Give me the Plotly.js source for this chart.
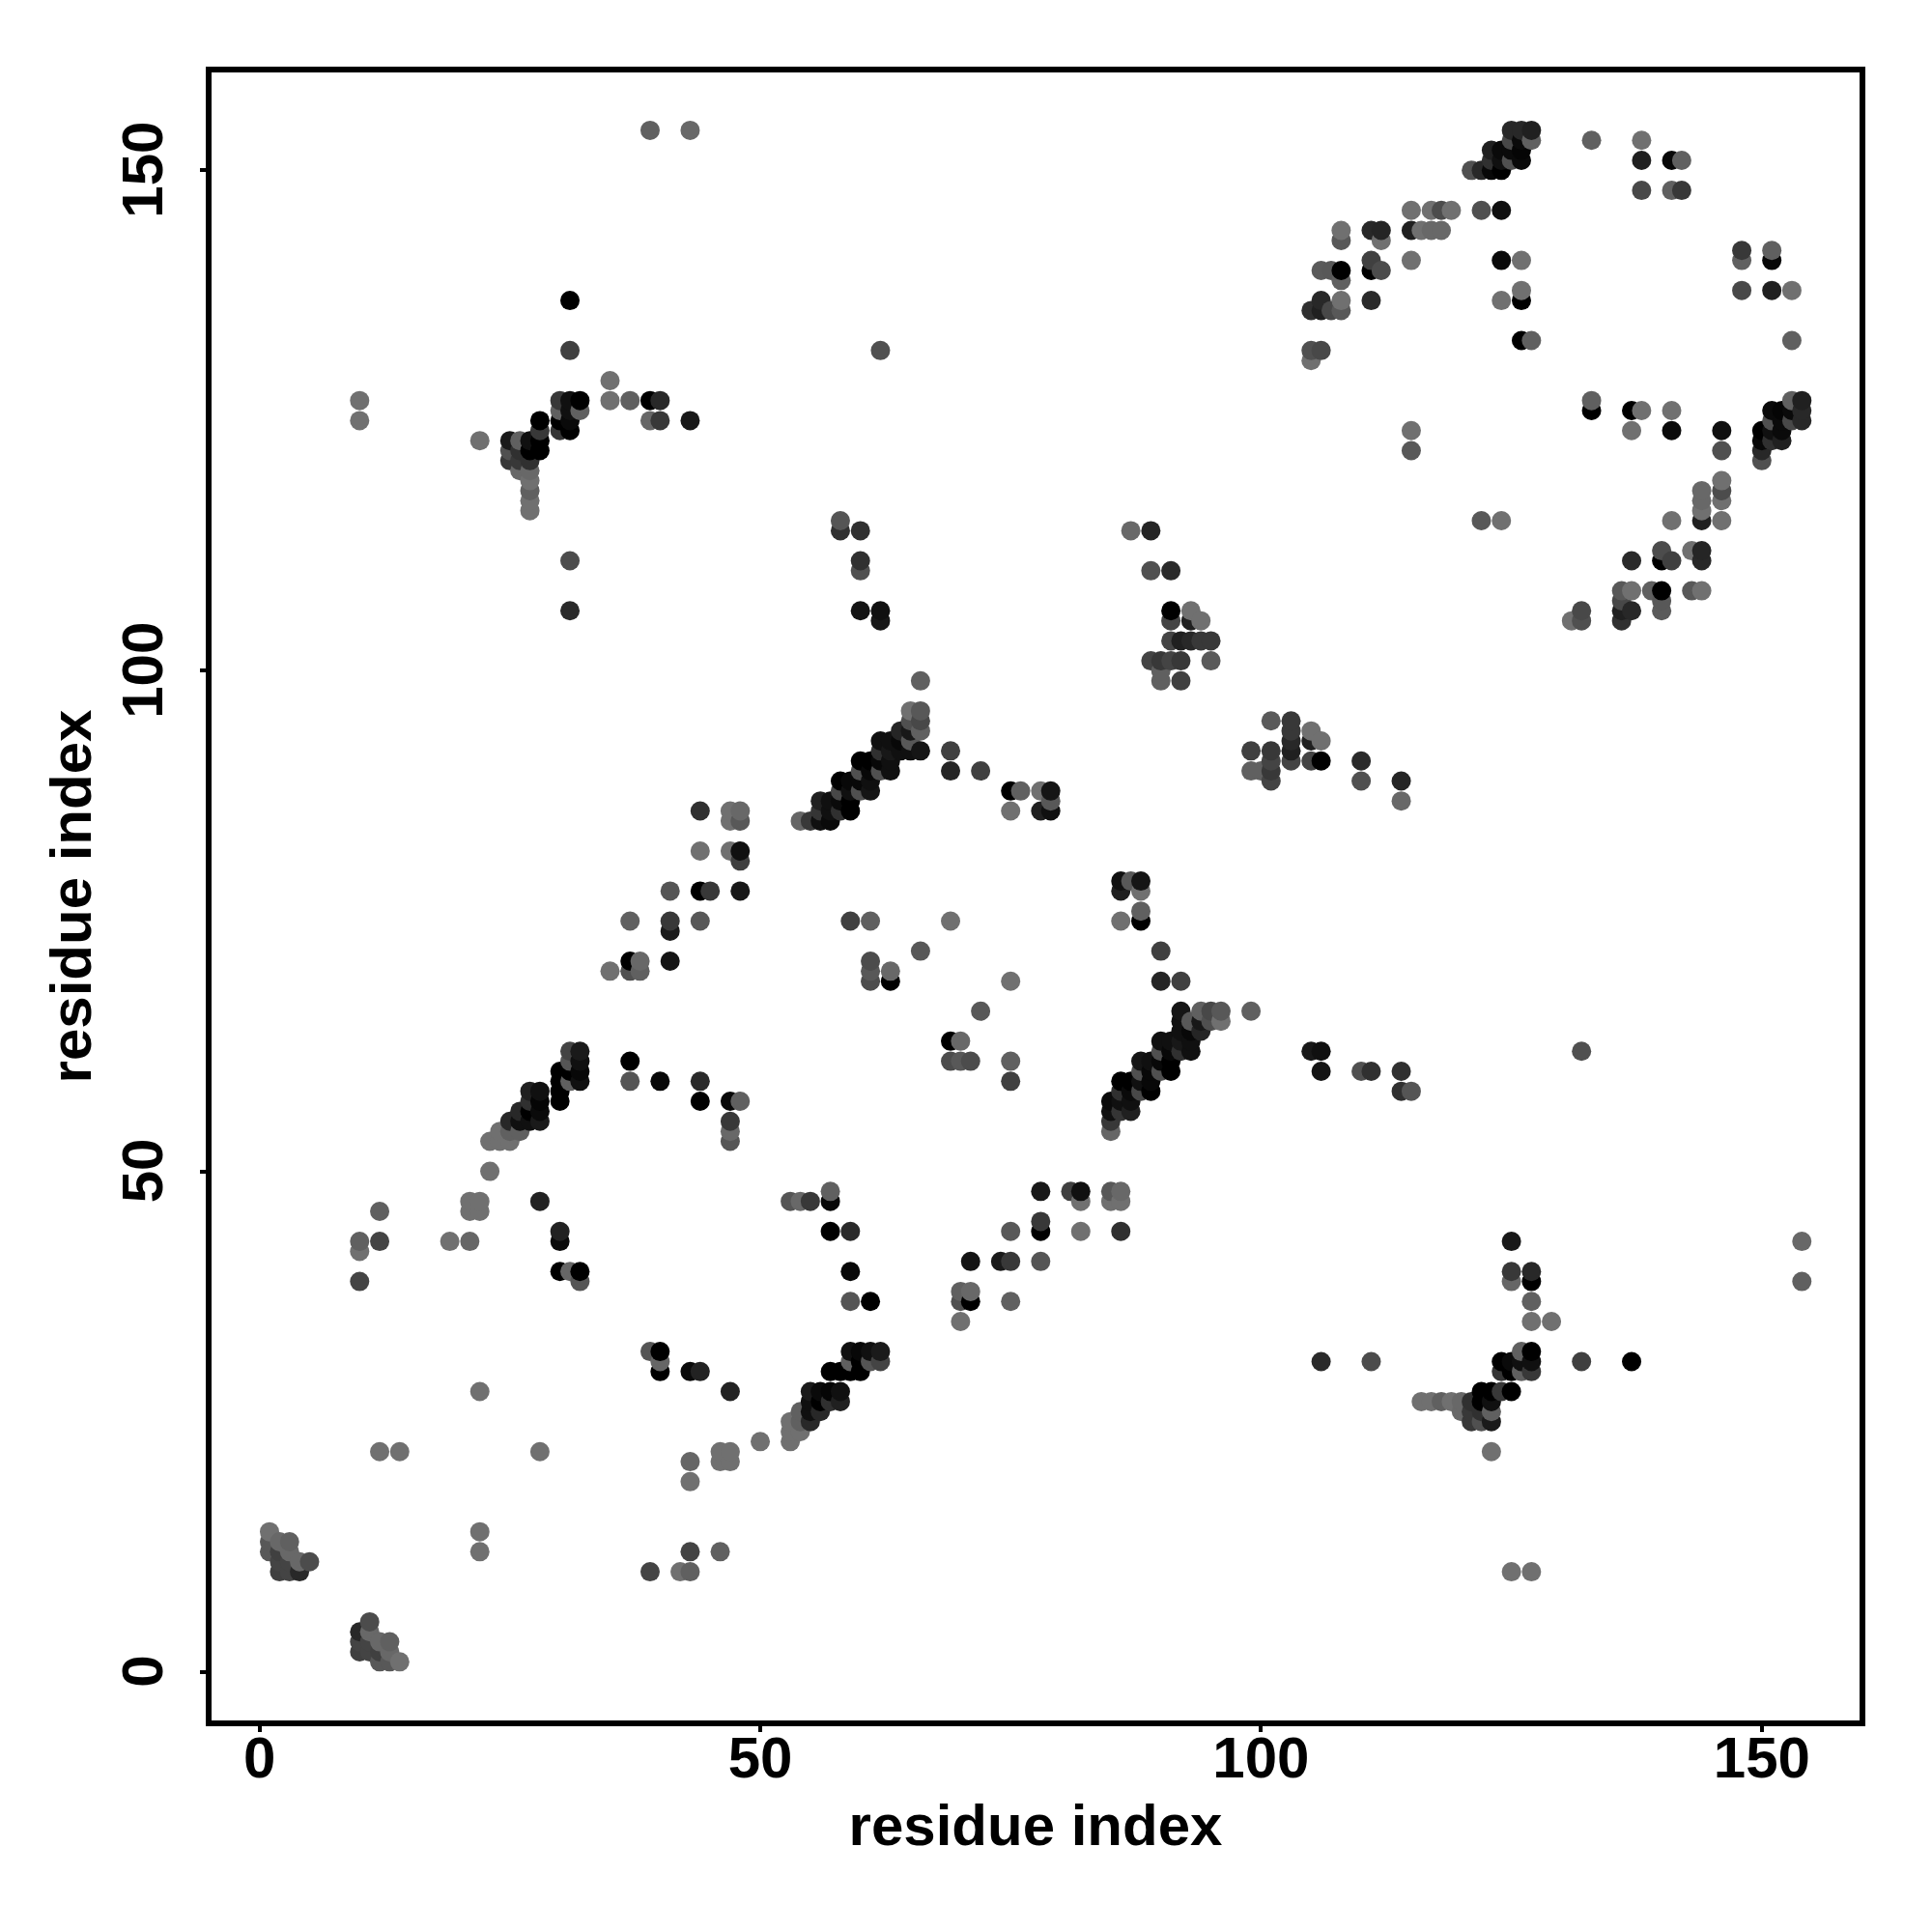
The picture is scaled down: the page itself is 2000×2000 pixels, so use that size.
<!DOCTYPE html>
<html><head><meta charset="utf-8">
<script src="https://cdn.plot.ly/plotly-3.0.1.min.js"></script>
<style>html,body{margin:0;padding:0;background:#fff}</style>
</head><body><div id="chart" style="width:2000px;height:2000px"></div>
<script>
// Each contact: [residue i, residue j, grey level]; the map is symmetric, so j<i is listed.
const contactsA = [[14,1,0x70],[13,1,0x58],[12,1,0x58],[13,2,0x68],[13,3,0x60],[12,2,0x40],[12,3,0x68],[11,2,0x44],[11,3,0x44],[11,4,0x68],[11,5,0x4c],[10,2,0x40],[10,3,0x44],[10,4,0x28]];
const contactsB = [[39,10,0x44],[42,10,0x70],[43,10,0x60],[43,12,0x44],[46,12,0x60],[43,19,0x70],[43,21,0x66],[46,21,0x70],[47,21,0x70],[46,22,0x70],[47,22,0x70],[28,22,0x70],[22,12,0x70],[22,14,0x70],[50,23,0x70],[47,28,0x22],[39,32,0x55],[40,32,0x00],[40,31,0x66],[40,30,0x00],[43,30,0x0a],[44,30,0x22]];
const contactsC = [[53,47,0x55],[54,47,0x68],[55,47,0x38],[57,48,0x60],[57,47,0x08],[57,44,0x00],[59,44,0x2a],[59,40,0x08],[59,37,0x55],[61,37,0x00]];
const contactsD = [[59,32,0x10],[60,32,0x08],[61,32,0x10],[62,32,0x1a],[59,31,0x60],[60,31,0x00],[61,31,0x55],[62,31,0x44],[57,30,0x00],[58,30,0x00],[59,30,0x00],[60,30,0x00],[55,28,0x1a],[56,28,0x0a],[57,28,0x05],[58,28,0x10],[55,27,0x10],[56,27,0x00],[57,27,0x30],[58,27,0x20],[54,26,0x60],[55,26,0x10],[56,26,0x28],[53,25,0x70],[54,25,0x60],[55,25,0x28],[53,24,0x70],[54,24,0x70],[53,23,0x70]];
const contactsE = [[78,48,0x18],[81,48,0x40],[82,48,0x10],[82,47,0x70],[85,48,0x58],[86,48,0x68],[85,47,0x70],[86,47,0x70],[75,44,0x58],[78,45,0x38],[78,44,0x00],[82,44,0x70],[86,44,0x30],[71,41,0x14],[74,41,0x1a],[75,41,0x38],[78,41,0x55],[70,38,0x60],[71,38,0x68],[70,37,0x50],[71,37,0x00],[75,37,0x60],[70,35,0x70]];
const contactsF = [[106,60,0x14],[110,60,0x50],[111,60,0x30],[114,60,0x30],[114,58,0x30],[115,58,0x55],[105,62,0x18],[106,62,0x10],[132,62,0x50],[125,43,0x18],[125,40,0x38],[125,39,0x66],[127,40,0x28],[127,39,0x00],[127,37,0x60],[127,35,0x70],[129,35,0x70],[154,43,0x68],[154,39,0x60],[106,31,0x2a],[111,31,0x4c],[132,31,0x40],[137,31,0x00],[123,22,0x70],[125,10,0x70],[127,10,0x70]];
const contactsG = [[126,32,0x60],[127,32,0x00],[124,31,0x00],[125,31,0x0a],[126,31,0x10],[127,31,0x10],[124,30,0x35],[125,30,0x00],[126,30,0x60],[127,30,0x38],[122,28,0x00],[123,28,0x00],[124,28,0x38],[125,28,0x00],[116,27,0x70],[117,27,0x70],[118,27,0x60],[119,27,0x70],[120,27,0x68],[121,27,0x30],[122,27,0x00],[123,27,0x10],[120,26,0x68],[121,26,0x38],[122,26,0x30],[123,26,0x60],[121,25,0x38],[122,25,0x50],[123,25,0x1a]];
const contactsH = [[75,69,0x70],[90,72,0x40],[90,69,0x25],[92,69,0x40],[86,79,0x10],[87,79,0x58],[88,79,0x15],[86,78,0x20],[88,78,0x70],[88,76,0x60],[86,75,0x70],[88,75,0x00],[69,63,0x00],[70,63,0x68],[69,61,0x4c],[70,61,0x58],[71,61,0x4c],[72,66,0x58],[75,59,0x40],[75,61,0x60],[99,66,0x60]];
const contactsI = [[92,66,0x15],[94,66,0x60],[95,66,0x48],[96,66,0x58],[96,65,0x70],[95,65,0x50],[94,65,0x18],[93,65,0x58],[92,65,0x10],[92,64,0x10],[93,64,0x08],[94,64,0x25],[90,63,0x10],[91,63,0x10],[92,63,0x18],[93,63,0x10],[90,62,0x50],[91,62,0x08],[92,62,0x30],[93,62,0x10],[88,61,0x15],[89,61,0x10],[90,61,0x08],[91,61,0x00],[88,60,0x50],[89,60,0x08],[90,60,0x50],[91,60,0x00],[86,59,0x00],[87,59,0x00],[88,59,0x10],[89,59,0x08],[86,58,0x30],[87,58,0x0a],[88,58,0x48],[89,58,0x00],[85,57,0x0a],[86,57,0x10],[87,57,0x10],[85,56,0x10],[86,56,0x35],[87,56,0x20],[85,55,0x38],[85,54,0x66]];
const contactsJ = [[101,95,0x5a],[103,95,0x38],[103,94,0x38],[103,93,0x28],[103,92,0x20],[103,91,0x44],[105,94,0x70],[106,93,0x70],[105,93,0x20],[105,91,0x44],[106,91,0x00],[99,92,0x40],[101,92,0x38],[101,91,0x44],[101,90,0x38],[101,89,0x44],[99,90,0x60],[100,90,0x60],[110,91,0x2a],[110,89,0x50],[114,89,0x25],[114,87,0x68]];
const contactsK = [[153,127,0x60],[154,127,0x20],[151,126,0x0a],[152,126,0x05],[153,126,0x0a],[154,126,0x28],[151,125,0x50],[152,125,0x0a],[153,125,0x48],[154,125,0x28],[150,124,0x00],[151,124,0x10],[152,124,0x0a],[150,123,0x08],[151,123,0x30],[152,123,0x20],[150,122,0x28],[150,121,0x50]];
const contactsL = [[146,124,0x10],[146,122,0x50],[144,118,0x68],[144,117,0x68],[144,116,0x70],[144,115,0x20],[146,119,0x70],[146,118,0x4c],[146,117,0x70],[146,115,0x70],[141,115,0x70],[140,112,0x4c],[140,111,0x00],[141,111,0x40],[143,112,0x70],[144,112,0x25],[144,111,0x28],[137,111,0x2a],[136,108,0x58],[137,108,0x70],[139,108,0x60],[140,108,0x00],[143,108,0x58],[144,108,0x70],[136,107,0x48],[136,106,0x20],[137,106,0x28],[136,105,0x30],[140,107,0x58],[140,106,0x5a],[132,106,0x48],[132,105,0x50],[131,105,0x70],[122,115,0x58],[124,115,0x70]];
const contactsM = [[133,127,0x60],[133,126,0x00],[137,126,0x00],[138,126,0x70],[141,126,0x70],[137,124,0x70],[141,124,0x0a],[153,133,0x60],[151,141,0x08],[151,142,0x60],[148,142,0x38],[148,141,0x60],[148,138,0x48],[151,138,0x20],[153,138,0x70]];

const axisTicks = [0, 50, 100, 150];
const axisLabel = 'residue index';

const lowerTriangle = [contactsA, contactsB, contactsC, contactsD, contactsE, contactsF, contactsG, contactsH, contactsI, contactsJ, contactsK, contactsL, contactsM].flat();
const allContacts = lowerTriangle.flatMap(c => [[c[0], c[1], c[2]], [c[1], c[0], c[2]]])
  .sort((a, b) => a[0] - b[0] || a[1] - b[1]);

const fontFamily = '"Liberation Sans", Arial, sans-serif';
const axisBase = {
  tickmode: 'array', tickvals: axisTicks,
  ticks: 'outside', ticklen: 6, tickwidth: 4, tickcolor: '#000',
  showline: true, linecolor: '#000', linewidth: 6, mirror: true,
  showgrid: false, zeroline: false, automargin: false,
  tickfont: {family: fontFamily, size: 60, color: '#000', weight: 'bold'}
};

Plotly.newPlot('chart', [{
  type: 'scatter', mode: 'markers',
  x: allContacts.map(c => c[0]), y: allContacts.map(c => c[1]),
  marker: {size: 20, line: {width: 0}, color: allContacts.map(c => `rgb(${c[2]},${c[2]},${c[2]})`)},
  hoverinfo: 'x+y', showlegend: false
}], {
  width: 2000, height: 2000,
  margin: {l: 219, r: 75, t: 75, b: 219, pad: 0},
  paper_bgcolor: '#fff', plot_bgcolor: '#fff',
  xaxis: Object.assign({}, axisBase, {
    range: [-4.786, 159.76], tickangle: 0, ticklabelstandoff: -25,
    ticktext: axisTicks.map(String),
    title: {text: axisLabel, standoff: 18, font: {family: fontFamily, size: 60, color: '#000', weight: 'bold'}}
  }),
  yaxis: Object.assign({}, axisBase, {
    range: [-4.854, 159.78], tickangle: -90, ticklabelstandoff: 15,
    ticktext: axisTicks.map(t => String(t) + '\u00a0'),
    title: {text: axisLabel, standoff: 2, font: {family: fontFamily, size: 60, color: '#000', weight: 'bold'}}
  })
}, {displayModeBar: false, staticPlot: true});
</script></body></html>
